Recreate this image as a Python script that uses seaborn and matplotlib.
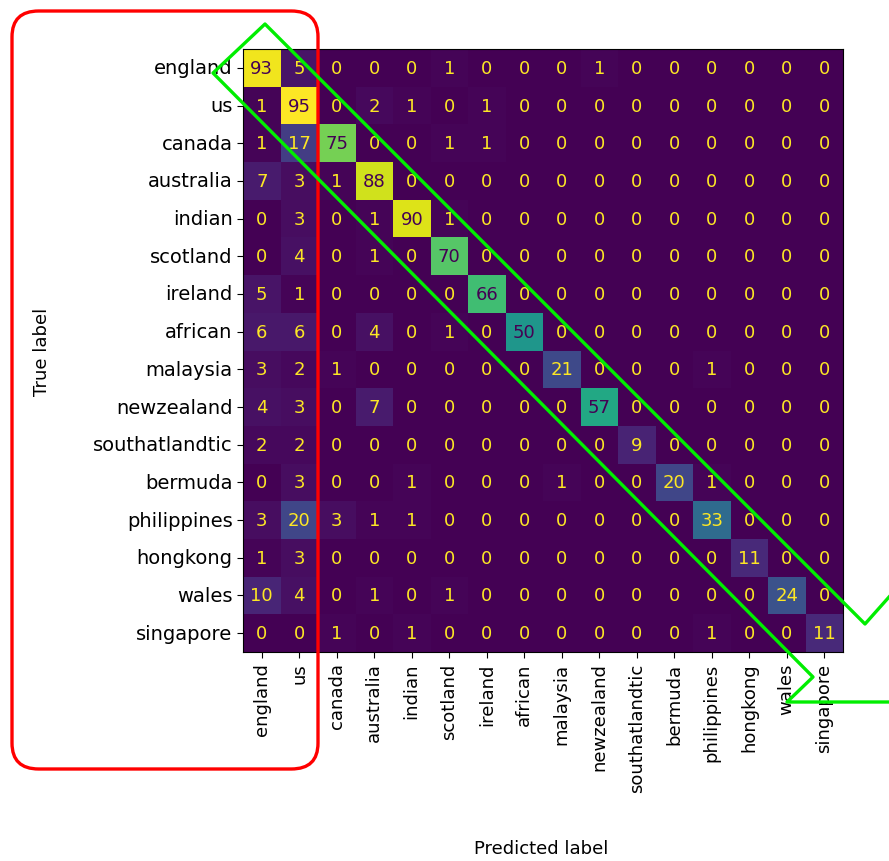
import numpy as np
import matplotlib.pyplot as plt
import seaborn as sns
from matplotlib.patches import FancyBboxPatch
from matplotlib.lines import Line2D

labels = ["england", "us", "canada", "australia", "indian", "scotland",
          "ireland", "african", "malaysia", "newzealand", "southatlandtic",
          "bermuda", "philippines", "hongkong", "wales", "singapore"]

# rows = true label, columns = predicted label
row_england = [93, 5, 0, 0, 0, 1, 0, 0, 0, 1, 0, 0, 0, 0, 0, 0]
row_us = [1, 95, 0, 2, 1, 0, 1, 0, 0, 0, 0, 0, 0, 0, 0, 0]
row_canada = [1, 17, 75, 0, 0, 1, 1, 0, 0, 0, 0, 0, 0, 0, 0, 0]
row_australia = [7, 3, 1, 88, 0, 0, 0, 0, 0, 0, 0, 0, 0, 0, 0, 0]
row_indian = [0, 3, 0, 1, 90, 1, 0, 0, 0, 0, 0, 0, 0, 0, 0, 0]
row_scotland = [0, 4, 0, 1, 0, 70, 0, 0, 0, 0, 0, 0, 0, 0, 0, 0]
row_ireland = [5, 1, 0, 0, 0, 0, 66, 0, 0, 0, 0, 0, 0, 0, 0, 0]
row_african = [6, 6, 0, 4, 0, 1, 0, 50, 0, 0, 0, 0, 0, 0, 0, 0]
row_malaysia = [3, 2, 1, 0, 0, 0, 0, 0, 21, 0, 0, 0, 1, 0, 0, 0]
row_newzealand = [4, 3, 0, 7, 0, 0, 0, 0, 0, 57, 0, 0, 0, 0, 0, 0]
row_southatlandtic = [2, 2, 0, 0, 0, 0, 0, 0, 0, 0, 9, 0, 0, 0, 0, 0]
row_bermuda = [0, 3, 0, 0, 1, 0, 0, 0, 1, 0, 0, 20, 1, 0, 0, 0]
row_philippines = [3, 20, 3, 1, 1, 0, 0, 0, 0, 0, 0, 0, 33, 0, 0, 0]
row_hongkong = [1, 3, 0, 0, 0, 0, 0, 0, 0, 0, 0, 0, 0, 11, 0, 0]
row_wales = [10, 4, 0, 1, 0, 1, 0, 0, 0, 0, 0, 0, 0, 0, 24, 0]
row_singapore = [0, 0, 1, 0, 1, 0, 0, 0, 0, 0, 0, 0, 1, 0, 0, 11]

cm = np.array([row_england, row_us, row_canada, row_australia, row_indian,
               row_scotland, row_ireland, row_african, row_malaysia,
               row_newzealand, row_southatlandtic, row_bermuda,
               row_philippines, row_hongkong, row_wales, row_singapore])

fig = plt.figure(figsize=(8.89, 8.62), dpi=100)
ax = fig.add_axes([243 / 889, 1 - 653 / 862, 600 / 889, 603 / 862])

cmap = plt.get_cmap("viridis")
sns.heatmap(cm, annot=True, fmt="d", cmap=cmap, cbar=False, ax=ax,
            xticklabels=labels, yticklabels=labels,
            annot_kws={"fontsize": 13})

# sklearn-style text colours
thresh = (cm.max() + cm.min()) / 2.0
for txt, val in zip(ax.texts, cm.flatten()):
    txt.set_color(cmap(0) if val >= thresh else cmap(1.0))

for s in ax.spines.values():
    s.set_visible(True)
    s.set_linewidth(0.8)

ax.tick_params(axis="both", length=4, width=0.8)
ax.set_xticklabels(labels, rotation=90, fontsize=13)
ax.set_yticklabels(labels, rotation=0, fontsize=14)
ax.set_xlabel("Predicted label", fontsize=13)
ax.set_ylabel("True label", fontsize=13)
ax.xaxis.set_label_coords(0.497, -0.31)
ax.yaxis.set_label_coords(-0.32, 0.5)

# annotation overlays (red box and green outline), in pixel coords
W, H = 889, 862
def fx(x):
    return x / W
def fy(y):
    return 1 - y / H

box = FancyBboxPatch((fx(12), fy(770)), fx(306), (770 - 12) / H,
                     boxstyle="round,pad=0,rounding_size=0.03",
                     transform=fig.transFigure, fill=False,
                     edgecolor="#ff0000", linewidth=2.4, zorder=10)
fig.patches.append(box)

green_x = [889, 865, 265, 213, 813, 787, 889]
green_y = [598, 625, 25, 74, 678, 703, 703]
fig.add_artist(Line2D([fx(x) for x in green_x], [fy(y) for y in green_y],
                      transform=fig.transFigure, color="#00ee00",
                      linewidth=2.4, zorder=11))

plt.savefig("out.png", dpi=100)
